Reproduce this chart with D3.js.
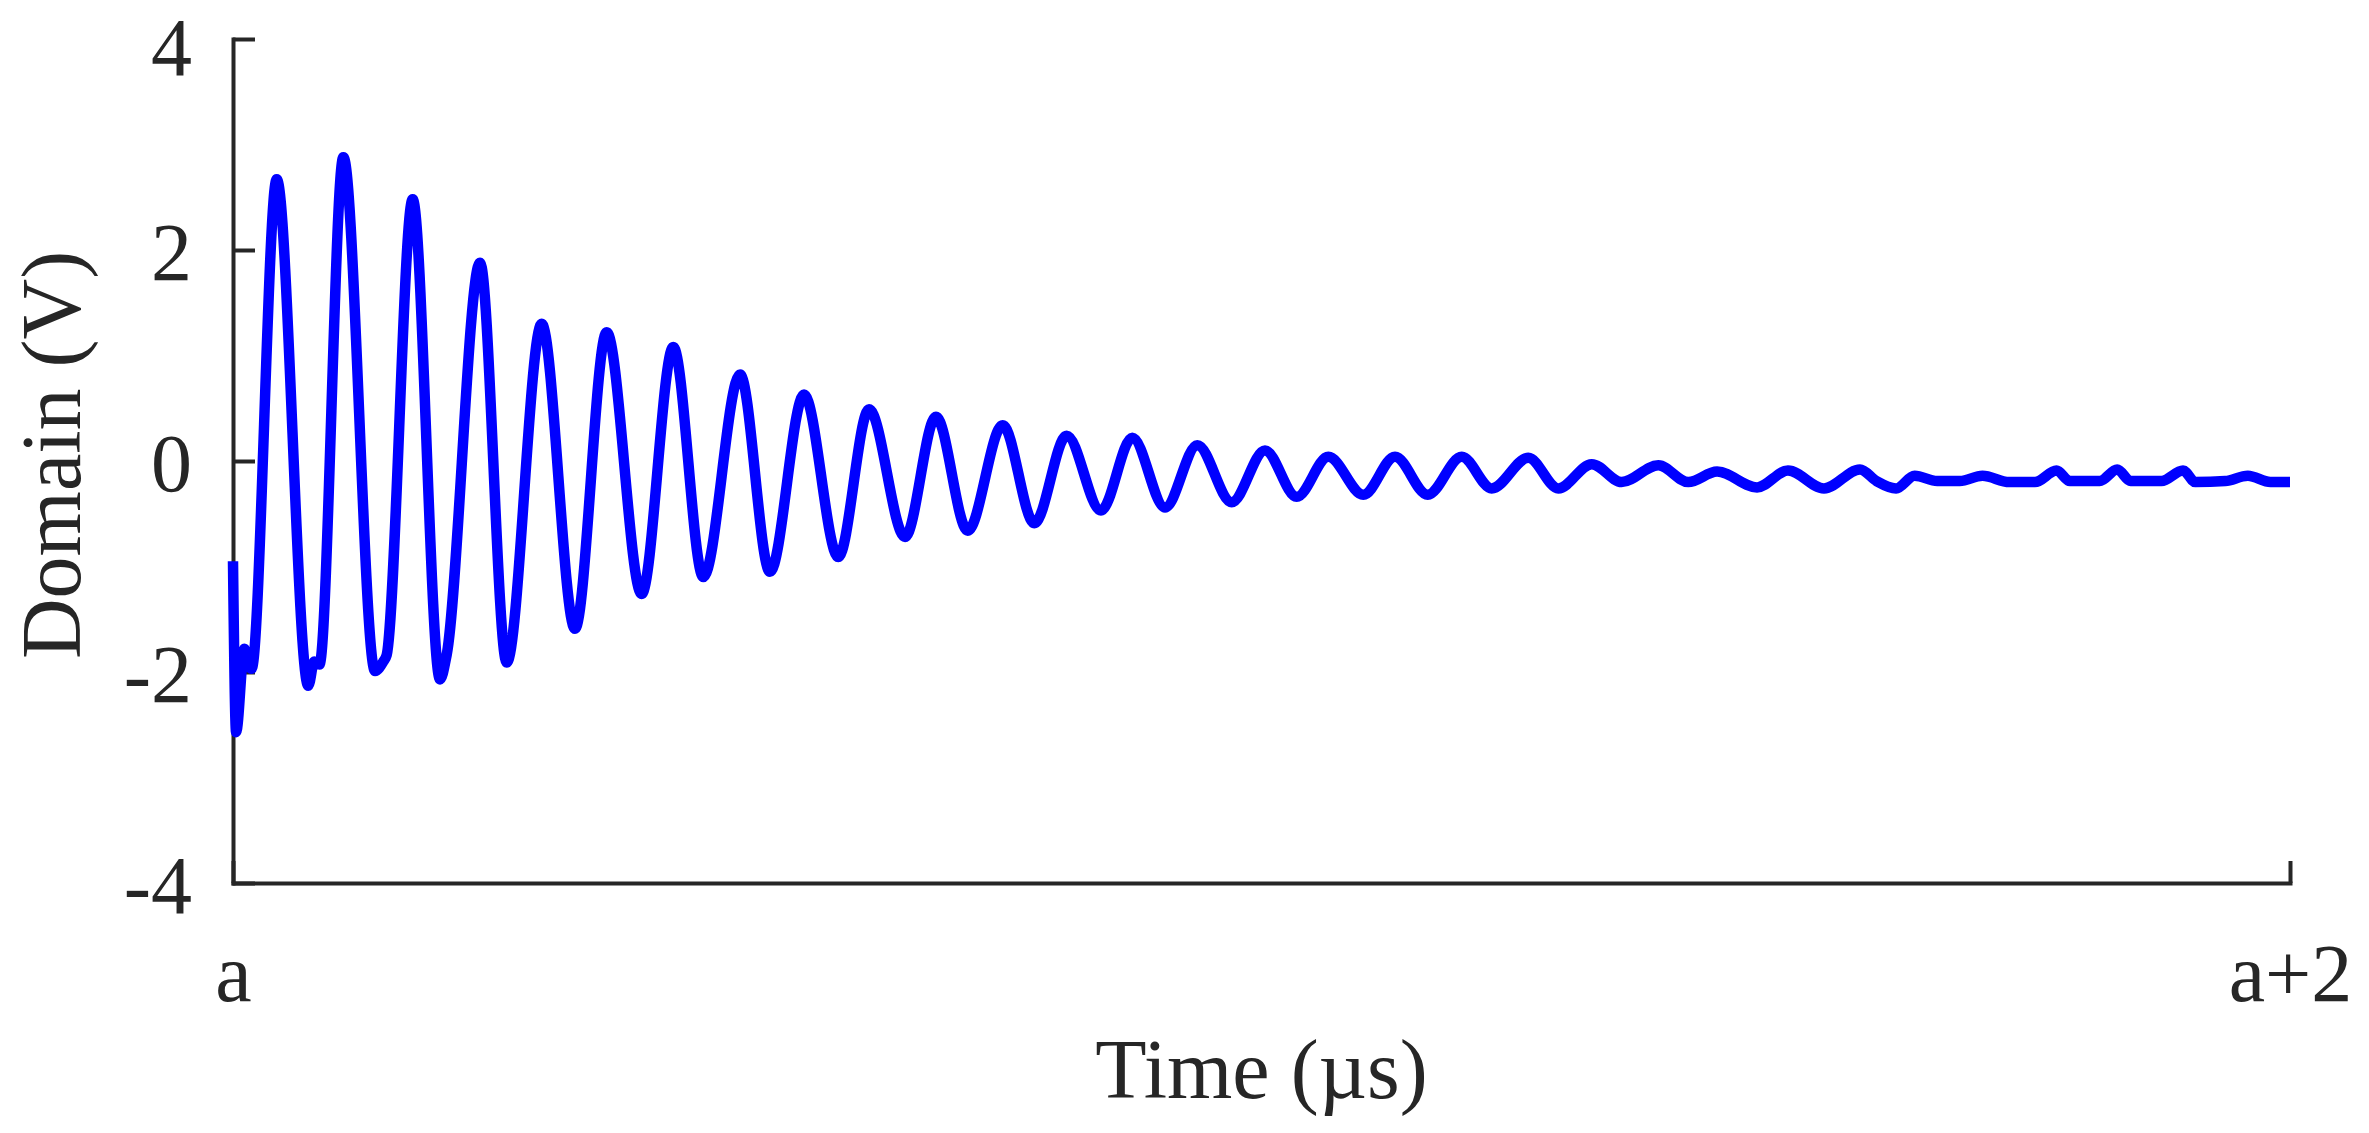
<!DOCTYPE html>
<html>
<head>
<meta charset="utf-8">
<script src="https://cdn.jsdelivr.net/npm/d3@7"></script>
<style>
  html, body { margin: 0; padding: 0; background: #ffffff; }
  svg { display: block; }
</style>
</head>
<body>
<svg id="chart" width="2369" height="1133"></svg>
<script>
// ---- Data (time offset from a, in µs; voltage in V) ----
const timeOffsets = [
  0.000, 0.003, 0.011, 0.015, 0.018, 0.0425, 0.0732, 0.0790, 0.0840, 0.1073,
  0.1381, 0.1462, 0.1494, 0.1747, 0.2013, 0.2077, 0.2402, 0.2661, 0.3001, 0.3325,
  0.3633, 0.3973, 0.4281, 0.4573, 0.4930, 0.5221, 0.5552, 0.5885, 0.6184, 0.6534,
  0.6835, 0.7143, 0.7484, 0.7791, 0.8106, 0.8439, 0.8744, 0.9062, 0.9376, 0.9710,
  1.0034, 1.0342, 1.0650, 1.0990, 1.1298, 1.1616, 1.1947, 1.2238, 1.2594, 1.2886,
  1.3211, 1.3502, 1.3858, 1.4150, 1.4430, 1.4818, 1.5119, 1.5469, 1.5819, 1.598,
  1.617, 1.635, 1.657, 1.679, 1.701, 1.727, 1.752, 1.773, 1.786, 1.815,
  1.832, 1.845, 1.875, 1.896, 1.908, 1.937, 1.959, 1.981, 2.000
];
const voltages = [
  -0.95, -2.57, -1.78, -1.92, -1.97, 2.67, -2.13, -1.90, -1.93, 2.88,
  -1.99, -1.90, -1.84, 2.48, -2.07, -1.84, 1.88, -1.91, 1.30, -1.59,
  1.22, -1.26, 1.08, -1.10, 0.82, -1.05, 0.63, -0.91, 0.49, -0.72,
  0.42, -0.66, 0.34, -0.59, 0.24, -0.47, 0.22, -0.44, 0.15, -0.39,
  0.10, -0.34, 0.04, -0.32, 0.04, -0.32, 0.04, -0.26, 0.03, -0.26,
  -0.03, -0.20, -0.04, -0.20, -0.10, -0.25, -0.09, -0.26, -0.08, -0.19,
  -0.26, -0.14, -0.19, -0.19, -0.14, -0.20, -0.20, -0.09, -0.19, -0.19,
  -0.08, -0.19, -0.19, -0.09, -0.20, -0.19, -0.14, -0.20, -0.20
];
const yTickValues = [-4, -2, 0, 2, 4];
const yTickLabels = ["-4", "-2", "0", "2", "4"];
const xTickValues = [0, 2];
const xTickLabels = ["a", "a+2"];
const xTitle = "Time (µs)";
const yTitle = "Domain (V)";

// ---- Layout ----
const svg = d3.select("#chart");
const plotLeft = 233, plotRight = 2290, plotTop = 39, plotBottom = 883;
const axisColor = "#262626";
const fontFamily = "'Liberation Serif', 'Times New Roman', serif";
const fontSize = 82;

const x = d3.scaleLinear().domain([0, 2]).range([plotLeft, plotRight]);
const y = d3.scaleLinear().domain([-4, 4]).range([plotBottom, plotTop]);

// Y axis
const yAxis = d3.axisLeft(y)
  .tickValues(yTickValues)
  .tickFormat((d, i) => yTickLabels[i])
  .tickSize(-22)
  .tickSizeOuter(0)
  .tickPadding(41);
const gy = svg.append("g").attr("transform", `translate(${plotLeft},0)`).call(yAxis);

// X axis
const xAxis = d3.axisBottom(x)
  .tickValues(xTickValues)
  .tickFormat((d, i) => xTickLabels[i])
  .tickSize(-22)
  .tickSizeOuter(0)
  .tickPadding(60);
const gx = svg.append("g").attr("transform", `translate(0,${plotBottom})`).call(xAxis);

[gx, gy].forEach(g => {
  g.selectAll(".domain").attr("stroke", axisColor).attr("stroke-width", 4).attr("stroke-linecap", "square");
  g.selectAll(".tick line").attr("stroke", axisColor).attr("stroke-width", 4);
  g.selectAll(".tick text")
    .attr("fill", axisColor)
    .style("font-family", fontFamily)
    .style("font-size", fontSize + "px");
});
gy.selectAll(".tick text").attr("dy", d => d === 4 ? "0.43em" : "0.36em");

// Axis titles
svg.append("text")
  .attr("x", (plotLeft + plotRight) / 2)
  .attr("y", 1098)
  .attr("text-anchor", "middle")
  .attr("fill", axisColor)
  .style("font-family", fontFamily)
  .style("font-size", "84px")
  .text(xTitle);

svg.append("text")
  .attr("transform", `translate(80,455) rotate(-90)`)
  .attr("text-anchor", "middle")
  .attr("fill", axisColor)
  .style("font-family", fontFamily)
  .style("font-size", "84px")
  .text(yTitle);

// Signal line
const data = timeOffsets.map((t, i) => ({ t, v: voltages[i] }));
const line = d3.line()
  .x(d => x(d.t))
  .y(d => y(d.v))
  .curve(d3.curveMonotoneX);

svg.append("path")
  .datum(data)
  .attr("d", line)
  .attr("fill", "none")
  .attr("stroke", "#0000ff")
  .attr("stroke-width", 10.5)
  .attr("stroke-linejoin", "round")
  .attr("stroke-linecap", "butt");
</script>
</body>
</html>
